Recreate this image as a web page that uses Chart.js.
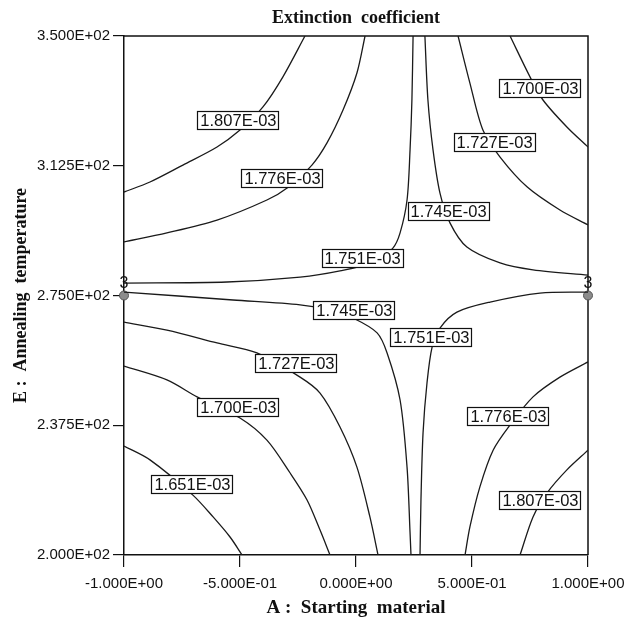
<!DOCTYPE html>
<html>
<head>
<meta charset="utf-8">
<script src="https://cdn.jsdelivr.net/npm/chart.js@4/dist/chart.umd.min.js"></script>
<style>
  html, body { margin: 0; padding: 0; background: #fff; }
  #wrap { width: 627px; height: 619px; }
</style>
</head>
<body>
<div id="wrap"><canvas id="c" width="627" height="619"></canvas></div>
<script>
// ---- Axis ticks ----
const xTickValues = [-1, -0.5, 0, 0.5, 1];
const xTickLabels = ["-1.000E+00", "-5.000E-01", "0.000E+00", "5.000E-01", "1.000E+00"];
const yTickValues = [200, 237.5, 275, 312.5, 350];
const yTickLabels = ["2.000E+02", "2.375E+02", "2.750E+02", "3.125E+02", "3.500E+02"];

// ---- Contour lines (A : Starting material, E : Annealing temperature) ----
const c1807Upper = [[-1,304.9],[-0.888,307.8],[-0.746,312.7],[-0.599,317.9],[-0.5,322.8],[-0.401,329.5],[-0.315,338.2],[-0.220,350]];
const c1776Upper = [[-1,290.5],[-0.815,293.1],[-0.599,296.8],[-0.384,302.6],[-0.297,306.1],[-0.190,312.7],[-0.125,319.1],[-0.056,328.6],[0.004,339.3],[0.039,350]];
const c1751Upper = [[-1,278.6],[-0.556,278.9],[-0.241,280.3],[-0.069,282.1],[0.082,284.7],[0.159,288.7],[0.190,293.1],[0.220,302.6],[0.233,317.1],[0.241,331.5],[0.246,350]];
const c1745Upper = [[0.297,350],[0.310,331.5],[0.332,317.1],[0.362,304.6],[0.405,296.0],[0.478,289.0],[0.621,284.4],[0.763,282.4],[1,280.9]];
const c1727Upper = [[0.440,350],[0.491,336.4],[0.547,322.8],[0.621,315.0],[0.737,306.4],[0.879,299.7],[1,295.4]];
const c1700Upper = [[0.664,350],[0.750,338.2],[0.806,331.5],[0.909,323.7],[1,317.9]];
const c1745Lower = [[-1,276.0],[-0.530,273.7],[-0.241,272.3],[-0.112,270.8],[-0.013,268.5],[0.091,264.2],[0.134,258.4],[0.190,244.8],[0.220,225.4],[0.233,206.4],[0.237,200]];
const c1751Lower = [[1,276.0],[0.793,275.7],[0.578,273.1],[0.435,270.2],[0.362,265.6],[0.328,260.1],[0.306,249.7],[0.289,235.3],[0.280,215.9],[0.276,200]];
const c1727Lower = [[-1,267.3],[-0.815,265.0],[-0.599,261.3],[-0.427,258.4],[-0.241,251.4],[-0.155,246.8],[-0.069,237.0],[0.004,225.4],[0.060,211.0],[0.095,200]];
const c1700Lower = [[-1,254.6],[-0.815,250.6],[-0.685,245.7],[-0.5,239.6],[-0.384,233.2],[-0.284,223.7],[-0.211,215.9],[-0.155,207.2],[-0.112,200]];
const c1651Lower = [[-1,231.5],[-0.888,227.5],[-0.703,217.3],[-0.616,211.0],[-0.543,205.2],[-0.491,200]];
const c1776Lower = [[1,255.8],[0.879,251.4],[0.763,245.7],[0.664,237.6],[0.591,230.3],[0.534,219.7],[0.491,208.1],[0.470,200]];
const c1807Lower = [[1,230.3],[0.909,224.6],[0.823,217.9],[0.763,211.0],[0.707,200]];

const contourLines = [c1807Upper, c1776Upper, c1751Upper, c1745Upper, c1727Upper, c1700Upper,
                      c1745Lower, c1751Lower, c1727Lower, c1700Lower, c1651Lower, c1776Lower, c1807Lower];

// ---- Contour labels ----
const labelTexts = ["1.807E-03","1.776E-03","1.751E-03","1.745E-03","1.727E-03","1.700E-03",
                    "1.745E-03","1.751E-03","1.727E-03","1.700E-03","1.651E-03","1.776E-03","1.807E-03"];
const labelX = [-0.509,-0.319,0.026,0.397,0.595,0.793, -0.009,0.323,-0.259,-0.509,-0.707,0.655,0.793];
const labelY = [325.7,309.0,285.8,299.4,319.4,335.0, 270.8,263.0,255.5,242.8,220.5,240.2,215.9];

// ---- Design points ----
const designX = [-1, 1];
const designY = [275, 275];
const designCount = ["3", "3"];

const ink = '#111';

const datasets = contourLines.map(pts => ({
  type: 'line',
  data: pts.map(p => ({x: p[0], y: p[1]})),
  borderColor: '#1a1a1a',
  borderWidth: 1.3,
  pointRadius: 0,
  tension: 0.3,
  fill: false
}));
datasets.push({
  type: 'scatter',
  data: designX.map((x, i) => ({x, y: designY[i]})),
  pointRadius: 4.5,
  pointBackgroundColor: '#8c8c8c',
  pointBorderColor: '#555',
  pointBorderWidth: 1,
  clip: false
});

const overlay = {
  id: 'overlay',
  beforeDatasetsDraw(chart) {
    const {ctx, chartArea: a} = chart;
    ctx.save();
    ctx.strokeStyle = ink;
    ctx.lineWidth = 1.5;
    ctx.beginPath();
    ctx.moveTo(a.left, a.top);
    ctx.lineTo(a.right, a.top);
    ctx.lineTo(a.right, a.bottom);
    ctx.stroke();
    ctx.restore();
  },
  afterDatasetsDraw(chart) {
    const {ctx, scales: {x, y}} = chart;
    ctx.save();
    ctx.font = '16.5px "Liberation Sans", Arial, sans-serif';
    ctx.textAlign = 'center';
    ctx.textBaseline = 'middle';
    labelTexts.forEach((t, i) => {
      const px = x.getPixelForValue(labelX[i]);
      const py = y.getPixelForValue(labelY[i]);
      const w = Math.round(ctx.measureText(t).width + 5);
      const h = 18;
      const l = Math.round(px - w / 2), tp = Math.round(py - h / 2);
      ctx.fillStyle = '#fff';
      ctx.fillRect(l, tp, w, h);
      ctx.strokeStyle = ink;
      ctx.lineWidth = 1.2;
      ctx.strokeRect(l + 0.5, tp + 0.5, w, h);
      ctx.fillStyle = ink;
      ctx.fillText(t, px + 0.5, py + 1.5);
    });
    ctx.font = '16px "Liberation Sans", Arial, sans-serif';
    designX.forEach((dx, i) => {
      const px = x.getPixelForValue(dx);
      const py = y.getPixelForValue(designY[i]);
      ctx.fillStyle = ink;
      ctx.fillText(designCount[i], px, py - 12);
    });
    ctx.restore();
  }
};

new Chart(document.getElementById('c'), {
  type: 'line',
  data: { datasets },
  plugins: [overlay],
  options: {
    responsive: false,
    animation: false,
    events: [],
    layout: { padding: { left: 0, right: 39, top: 0, bottom: 0 } },
    plugins: {
      legend: { display: false },
      tooltip: { enabled: false },
      title: {
        display: true,
        text: 'Extinction  coefficient',
        fullSize: false,
        color: ink,
        font: { family: '"Liberation Serif", "Times New Roman", serif', size: 18, weight: 'bold', lineHeight: 1.2 },
        padding: { top: 8, bottom: 6.4 }
      }
    },
    scales: {
      x: {
        type: 'linear',
        min: -1, max: 1,
        afterFit: s => { s.height = 64; s.paddingLeft = 0; s.paddingRight = 0; },
        afterBuildTicks: s => { s.ticks = xTickValues.map(v => ({value: v})); },
        ticks: {
          color: ink,
          font: { family: '"Liberation Sans", Arial, sans-serif', size: 15 },
          padding: 8,
          maxRotation: 0,
          autoSkip: false,
          callback: (v, i) => xTickLabels[i]
        },
        grid: { drawOnChartArea: false, drawTicks: true, tickLength: 12, color: ink, lineWidth: 1.2 },
        border: { display: true, color: ink, width: 1.5 },
        title: {
          display: true,
          text: 'A :  Starting  material',
          color: ink,
          font: { family: '"Liberation Serif", "Times New Roman", serif', size: 19, weight: 'bold', lineHeight: 1.2 },
          padding: { top: 0, bottom: 0 }
        }
      },
      y: {
        type: 'linear',
        min: 200, max: 350,
        afterFit: s => { s.width = 124; s.paddingTop = 0; s.paddingBottom = 0; },
        afterBuildTicks: s => { s.ticks = yTickValues.map(v => ({value: v})); },
        ticks: {
          color: ink,
          font: { family: '"Liberation Sans", Arial, sans-serif', size: 15 },
          padding: 3,
          autoSkip: false,
          callback: (v, i) => yTickLabels[i]
        },
        grid: { drawOnChartArea: false, drawTicks: true, tickLength: 11, color: ink, lineWidth: 1.2 },
        border: { display: true, color: ink, width: 1.5 },
        title: {
          display: true,
          text: 'E :  Annealing  temperature',
          color: ink,
          font: { family: '"Liberation Serif", "Times New Roman", serif', size: 18, weight: 'bold', lineHeight: 1.2 },
          padding: { top: 11, bottom: 0 }
        }
      }
    }
  }
});
</script>
</body>
</html>
